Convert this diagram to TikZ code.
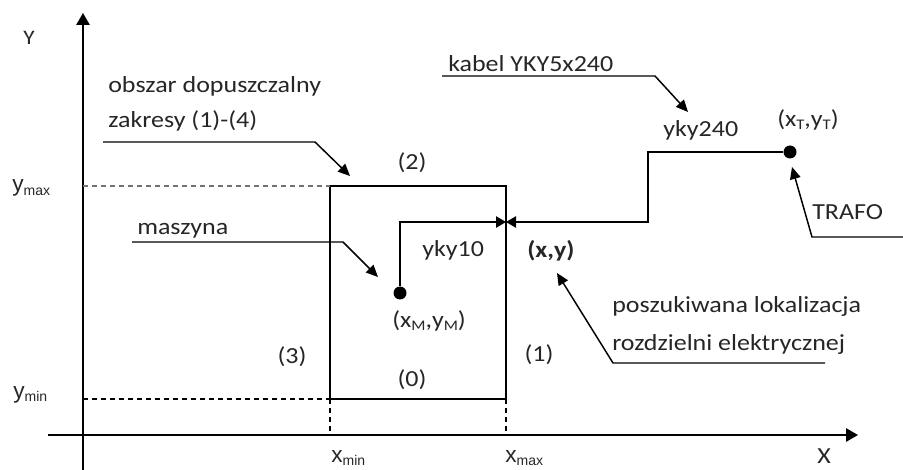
\documentclass[tikz,border=0pt]{standalone}
\usepackage{fontspec}
\setmainfont[FakeStretch=1.13]{Carlito}
\newfontfamily\arialf{Liberation Sans}
\usetikzlibrary{arrows.meta}
\newcommand{\mysub}[1]{\raisebox{-2pt}{\fontsize{11}{11}\selectfont #1}}
\newcommand{\axsub}[1]{\raisebox{-2.5pt}{\arialf\fontsize{10.5}{10.5}\selectfont #1}}
\begin{document}
\begin{tikzpicture}[x=0.75pt,y=-0.75pt,
  txt/.style={inner sep=0pt, anchor=base west, text=black!85, font=\fontsize{17.25}{20}\selectfont},
  ctxt/.style={inner sep=0pt, anchor=center, text=black!85, font=\fontsize{17.25}{20}\selectfont},
  axl/.style={inner sep=0pt, anchor=base west, text=black!85, font=\arialf\fontsize{17}{17}\selectfont},
  axis/.style={line width=1.4pt, -{Triangle[length=9pt,width=10pt]}},
  wire/.style={line width=1.1pt},
  lead/.style={line width=1.1pt, -{Triangle[length=9pt,width=8pt]}},
  tip/.style={line width=1.1pt, -{Triangle[length=7.5pt,width=8.5pt]}},
  dsh/.style={line width=0.9pt, dash pattern=on 3.75pt off 3pt},
  dot/.style={circle, fill=black, inner sep=0pt, minimum size=9.75pt}]
\useasboundingbox (0,0) rectangle (903,470);

% axes
\coordinate (Ybot) at (83,470);
\coordinate (Ytop) at (83,13);
\coordinate (Xl) at (48,435);
\coordinate (Xr) at (858,435);
\draw[axis] (Ybot) -- (Ytop);
\draw[axis] (Xl) -- (Xr);
\node[ctxt, font=\fontsize{15.5}{16}\selectfont] (Ylab) at (29,38) {Y};
\node[ctxt] (Xlab) at (824,456) {X};

% feasible region
\coordinate (BL) at (330,399);
\coordinate (BR) at (506,399);
\coordinate (TL) at (330,186);
\coordinate (TR) at (506,186);
\draw[wire] (BL) rectangle (TR);
\coordinate (Ymax) at (83,186);
\coordinate (Ymin) at (83,399);
\coordinate (Xmin) at (330,435);
\coordinate (Xmax) at (506,435);
\draw[dsh, black!55] (Ymax) -- (TL);
\draw[dsh] (Ymin) -- (BL);
\draw[dsh] (BL) -- (Xmin);
\draw[dsh] (BR) -- (Xmax);

\node[axl] (ymaxl) at (12,192) {y\axsub{max}};
\node[axl] (yminl) at (13,398) {y\axsub{min}};
\node[axl] (xminl) at (331,462) {x\axsub{min}};
\node[axl] (xmaxl) at (505,462) {x\axsub{max}};

\node[ctxt] (c2) at (412,163) {(2)};
\node[ctxt] (c0) at (412,380) {(0)};
\node[ctxt] (c3) at (292,357) {(3)};
\node[ctxt] (c1) at (539,355) {(1)};

% points and cables
\node[dot] (M) at (400,293) {};
\node[dot] (T) at (790,152) {};
\coordinate (S) at (506,222);
\coordinate (K1) at (648,152);
\draw[tip] (M) |- (S);
\draw[tip] (T) -- (K1) |- (S);

\node[txt] (yky10) at (422,257) {yky10};
\node[txt, font=\bfseries\fontsize{17.25}{20}\selectfont] (xy) at (527,258) {(x,y)};
\node[txt] (xM) at (392,328) {(x\mysub{M},y\mysub{M})};
\node[txt] (yky240) at (663,137) {yky240};
\node[txt] (xT) at (777,127) {(x\mysub{T},y\mysub{T})};

% callouts
\node[txt] (kab) at (448,72) {kabel YKY5x240};
\coordinate (kabA) at (442,76);
\coordinate (kabB) at (655,76);
\coordinate (kabC) at (688,112);
\draw[lead] (kabA) -- (kabB) -- (kabC);

\node[txt] (obs1) at (108,93) {obszar dopuszczalny};
\node[txt] (obs2) at (108,128) {zakresy (1)-(4)};
\coordinate (obsA) at (103,142);
\coordinate (obsB) at (315,142);
\coordinate (obsC) at (350,176);
\draw[lead] (obsA) -- (obsB) -- (obsC);

\node[txt] (masz) at (137,235) {maszyna};
\coordinate (maszA) at (132,242);
\coordinate (maszB) at (343,242);
\coordinate (maszC) at (378,277);
\draw[lead] (maszA) -- (maszB) -- (maszC);

\node[txt] (trafo) at (812,220) {TRAFO};
\coordinate (trA) at (903,237);
\coordinate (trB) at (812,237);
\coordinate (trC) at (792,167);
\draw[lead] (trA) -- (trB) -- (trC);

\node[txt] (pos1) at (612,313) {poszukiwana lokalizacja};
\node[txt] (pos2) at (612,350) {rozdzielni elektrycznej};
\coordinate (posA) at (825,363);
\coordinate (posB) at (613,363);
\coordinate (posC) at (557,273);
\draw[lead] (posA) -- (posB) -- (posC);
\end{tikzpicture}
\end{document}
